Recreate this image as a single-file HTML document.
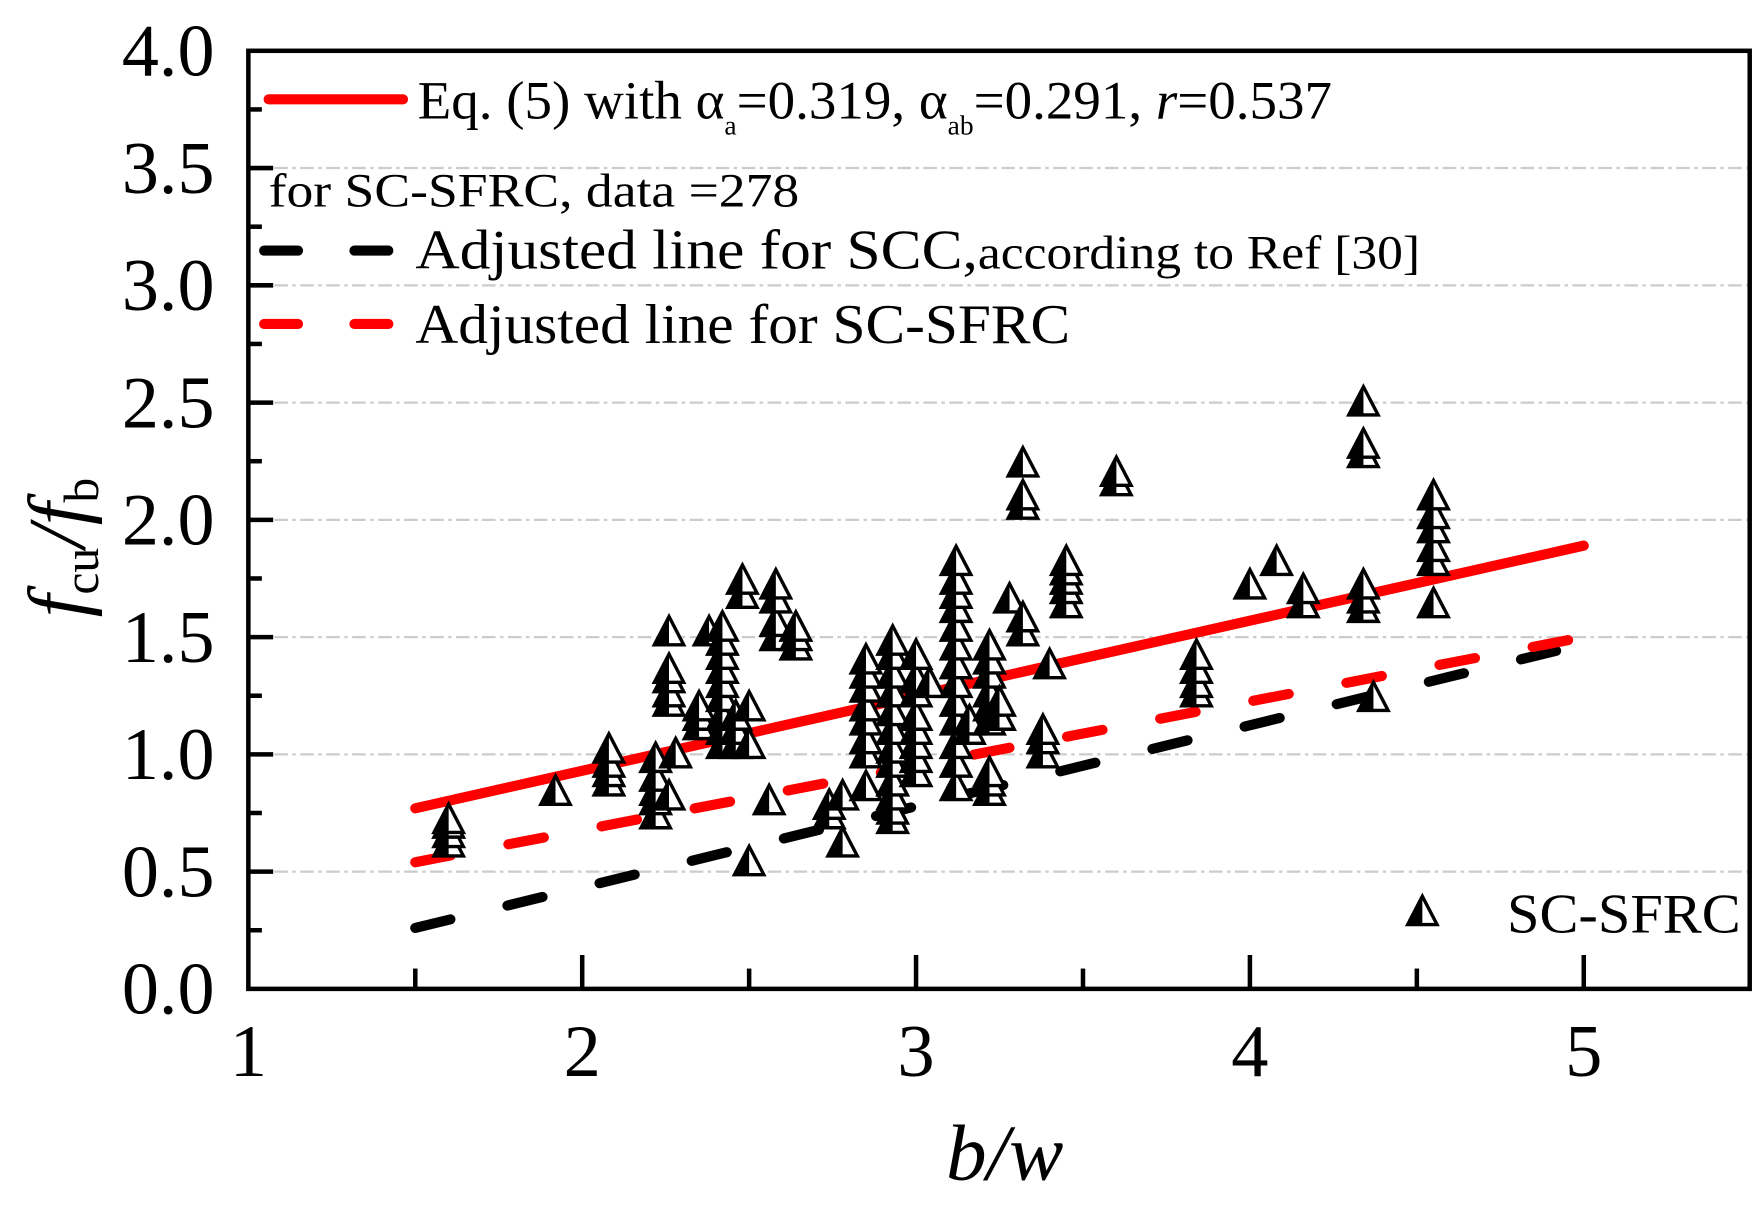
<!DOCTYPE html>
<html><head><meta charset="utf-8"><style>
html,body{margin:0;padding:0;background:#fff;}
svg{display:block;}
text{font-family:"Liberation Serif","DejaVu Serif",serif;fill:#000;}
</style></head><body>
<svg id="chart" width="1761" height="1209" viewBox="0 0 1560 1071" preserveAspectRatio="none" xmlns="http://www.w3.org/2000/svg">
<g id="grid"></g>
<g id="lines"></g>
<g id="pts"></g>
<g id="axes"></g>
<g>
  <line x1="238" y1="88" x2="357" y2="88" stroke="#f00" stroke-width="9" stroke-linecap="round"/>
  <text x="370" y="105" font-size="48" textLength="810" lengthAdjust="spacingAndGlyphs">Eq. (5) with α<tspan font-size="24" dy="14">a</tspan><tspan dy="-14">=0.319, α</tspan><tspan font-size="24" dy="14">ab</tspan><tspan dy="-14">=0.291, </tspan><tspan font-style="italic">r</tspan>=0.537</text>
  <text x="238" y="183" font-size="42" textLength="470" lengthAdjust="spacingAndGlyphs">for SC-SFRC, data =278</text>
  <line x1="234" y1="222" x2="352" y2="222" stroke="#000" stroke-width="9" stroke-linecap="round" stroke-dasharray="30 50"/>
  <text x="368" y="238" font-size="50" textLength="890" lengthAdjust="spacingAndGlyphs">Adjusted line for SCC,<tspan font-size="42">according to Ref [30]</tspan></text>
  <line x1="234" y1="287" x2="352" y2="287" stroke="#f00" stroke-width="9" stroke-linecap="round" stroke-dasharray="30 50"/>
  <text x="368" y="304" font-size="50" textLength="580" lengthAdjust="spacingAndGlyphs">Adjusted line for SC-SFRC</text>
  <g id="legmark"></g>
  <text x="1335" y="826" font-size="50" textLength="207" lengthAdjust="spacingAndGlyphs">SC-SFRC</text>
</g>
<text transform="translate(75,485) rotate(-90)" text-anchor="middle" font-size="72" font-style="italic">f<tspan font-size="44" font-style="normal" dy="12">cu</tspan><tspan dy="-12">/f</tspan><tspan font-size="44" font-style="normal" dy="12">b</tspan></text>
<text x="890" y="1045" text-anchor="middle" font-size="70" font-style="italic" textLength="104" lengthAdjust="spacingAndGlyphs">b/w</text>
</svg>
<script>
const xTicks=[1,2,3,4,5];
const yTicks=[0,0.5,1.0,1.5,2.0,2.5,3.0,3.5,4.0];
const lineX=[1.5,5];
const eq5Y=[0.77,1.89];
const scsfrcY=[0.54,1.50];
const sccY=[0.26,1.47];
const ptX=[1.6,1.6,1.6,1.6,1.92,2.08,2.08,2.08,2.08,2.22,2.22,2.22,2.22,2.22,2.26,2.26,2.26,2.26,2.26,2.26,2.28,2.35,2.35,2.35,2.38,2.42,2.42,2.42,2.42,2.42,2.42,2.42,2.42,2.42,2.46,2.46,2.46,2.48,2.48,2.5,2.5,2.5,2.56,2.58,2.58,2.58,2.58,2.64,2.64,2.64,2.74,2.74,2.78,2.78,2.85,2.85,2.85,2.85,2.85,2.85,2.85,2.85,2.93,2.93,2.93,2.93,2.93,2.93,2.93,2.93,2.93,2.93,2.93,2.93,3.0,3.0,3.0,3.0,3.0,3.0,3.0,3.0,3.04,3.12,3.12,3.12,3.12,3.12,3.12,3.12,3.12,3.12,3.12,3.12,3.12,3.12,3.16,3.16,3.22,3.22,3.22,3.22,3.22,3.22,3.22,3.22,3.22,3.25,3.25,3.28,3.32,3.32,3.32,3.32,3.32,3.38,3.38,3.38,3.4,3.45,3.45,3.45,3.45,3.45,3.6,3.6,3.84,3.84,3.84,3.84,4.0,4.08,4.16,4.16,4.34,4.34,4.34,4.34,4.34,4.34,4.37,4.55,4.55,4.55,4.55,4.55,4.55];
const ptY=[0.62,0.66,0.70,0.72,0.84,0.88,0.92,0.96,1.02,0.74,0.80,0.84,0.90,0.98,0.82,1.22,1.26,1.32,1.36,1.52,1.00,1.12,1.16,1.20,1.52,1.04,1.10,1.16,1.24,1.30,1.36,1.42,1.48,1.54,1.04,1.10,1.16,1.68,1.74,1.04,1.20,0.54,0.80,1.50,1.56,1.66,1.72,1.46,1.50,1.54,0.74,0.78,0.62,0.82,0.86,1.00,1.06,1.14,1.20,1.28,1.34,1.40,0.72,0.76,0.82,0.88,0.96,1.02,1.10,1.18,1.26,1.34,1.42,1.48,0.92,0.98,1.04,1.10,1.16,1.26,1.32,1.42,1.30,0.86,0.96,1.04,1.14,1.22,1.30,1.38,1.46,1.54,1.62,1.68,1.74,1.82,1.10,1.14,0.84,0.88,0.92,1.14,1.20,1.26,1.34,1.40,1.46,1.16,1.22,1.66,1.52,1.58,2.06,2.10,2.24,1.00,1.06,1.10,1.38,1.64,1.70,1.74,1.78,1.82,2.16,2.20,1.26,1.30,1.36,1.42,1.72,1.82,1.64,1.70,1.62,1.66,1.72,2.28,2.32,2.50,1.24,1.64,1.82,1.88,1.96,2.02,2.10];

const L=220,R=1550,T=45,B=876;
const sx=v=>L+(v-1)*(1403-220)/4;
const sy=v=>B-v*(B-T)/4;
const NS="http://www.w3.org/2000/svg";
function mk(tag,attrs,parent){const e=document.createElementNS(NS,tag);for(const k in attrs)e.setAttribute(k,attrs[k]);parent.appendChild(e);return e;}
const grid=document.getElementById('grid'),axes=document.getElementById('axes'),lines=document.getElementById('lines'),pts=document.getElementById('pts');
yTicks.forEach(v=>{
  if(v>0&&v<4){const g=mk('line',{x1:L,x2:R,y1:sy(v),y2:sy(v),stroke:'#ccc','stroke-width':2,'stroke-dasharray':'12 4 3 4'},grid);
  
  }
  const t=mk('text',{x:190,y:sy(v)+22,'text-anchor':'end','font-size':66,textLength:82,lengthAdjust:'spacingAndGlyphs'},axes);t.textContent=v.toFixed(1);
  
  
});
for(let v=0.25;v<4;v+=0.25){const tk=mk('line',{x1:L,x2:L+(Math.abs(v*2-Math.round(v*2))<1e-6?22:12),y1:sy(v),y2:sy(v),stroke:'#000','stroke-width':4},axes);

}
xTicks.forEach(v=>{
  const t=mk('text',{x:sx(v),y:953,'text-anchor':'middle','font-size':66},axes);t.textContent=v;
  
  
});
for(let v=1.5;v<5.5;v+=0.5){const major=Math.abs(v-Math.round(v))<1e-6;const tk=mk('line',{x1:sx(v),x2:sx(v),y1:B,y2:B-(major?30:18),stroke:'#000','stroke-width':4},axes);

}
const frame=mk('rect',{x:L,y:T,width:R-L,height:B-T,fill:'none',stroke:'#000','stroke-width':4},axes);



function drawLine(ys,color,dash,name){
  const a={x1:sx(lineX[0]),y1:sy(ys[0]),x2:sx(lineX[1]),y2:sy(ys[1]),stroke:color,'stroke-width':9,'stroke-linecap':'round'};
  if(dash)a['stroke-dasharray']=dash;
  const l=mk('line',a,lines);
  
  
}
drawLine(sccY,'#000','32 52','scc-adjusted-line');
drawLine(scsfrcY,'#f00','32 52','scsfrc-adjusted-line');
drawLine(eq5Y,'#f00',null,'eq5-line');

function tri(cx,cy,parent){
  const g=mk('g',{},parent);
  mk('polygon',{points:`${cx},${cy-14} ${cx-13},${cy+11} ${cx+13},${cy+11}`,fill:'#fff',stroke:'#000','stroke-width':3},g);
  mk('polygon',{points:`${cx},${cy-14} ${cx-13},${cy+11} ${cx},${cy+11}`,fill:'#000'},g);
  return g;
}
ptX.forEach((x,i)=>{const g=tri(sx(x),sy(ptY[i]),pts);
  
  });
const lm=tri(1260,808,document.getElementById('legmark'));


</script>
</body></html>
